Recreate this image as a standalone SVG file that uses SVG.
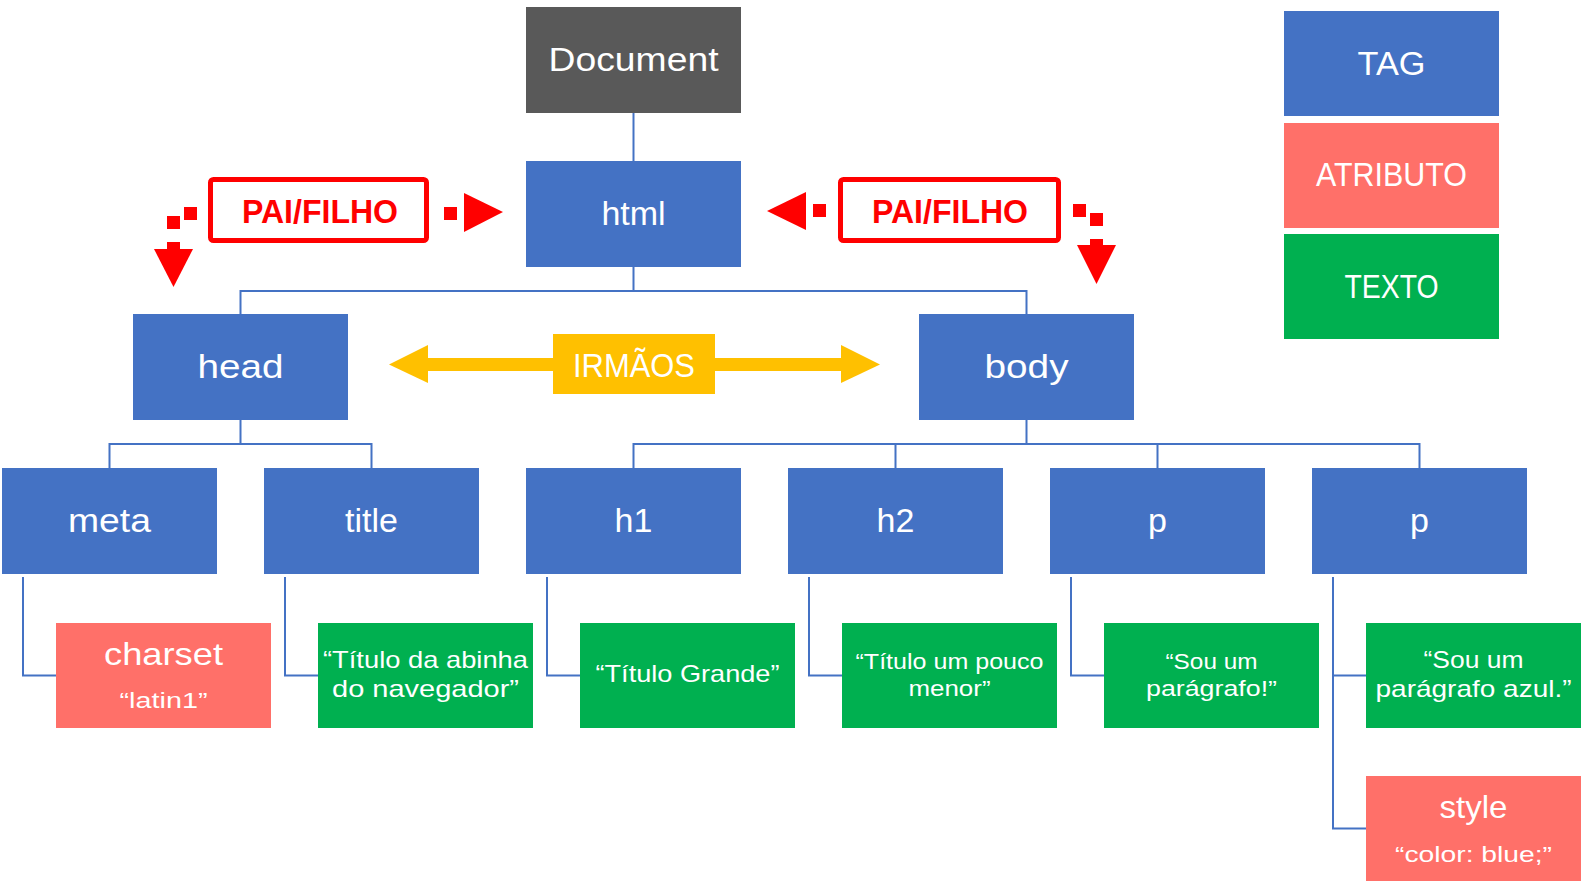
<svg xmlns="http://www.w3.org/2000/svg" width="1588" height="889" viewBox="0 0 1588 889">
<style>
.tag{fill:#4472C4}
.doc{fill:#595959}
.attr{fill:#FF7069}
.txt{fill:#00B050}
.t{font-family:"Liberation Sans","DejaVu Sans",sans-serif;fill:#fff;text-anchor:middle}
.big{font-size:34px}
.mid{font-size:24px}
.sm{font-size:22px}
.conn{fill:none;stroke:#4472C4;stroke-width:2}
.red{fill:#FF0000}
.redbox{fill:#fff;stroke:#FF0000;stroke-width:5}
.redt{font-family:"Liberation Sans","DejaVu Sans",sans-serif;font-weight:bold;font-size:34px;fill:#FF0000;text-anchor:middle}
.yel{fill:#FFC000}
</style>
<rect width="1588" height="889" fill="#fff"/>
<g id="connectors">
<path class="conn" d="M633.5 113V161"/>
<path class="conn" d="M633.5 267V291M240.5 314V291H1026.5V314"/>
<path class="conn" d="M240.5 420V444M109.5 468V444H371.5V468"/>
<path class="conn" d="M1026.5 420V444M633.5 468V444H1419.5V468M895.5 444V468M1157.5 444V468"/>
<path class="conn" d="M23 577V675.5H56"/>
<path class="conn" d="M285 577V675.5H318"/>
<path class="conn" d="M547 577V675.5H580"/>
<path class="conn" d="M809 577V675.5H842"/>
<path class="conn" d="M1071 577V675.5H1104"/>
<path class="conn" d="M1333 577V828.5H1366M1333 675.5H1366"/>
</g>
<g id="document"><rect class="doc" x="526" y="7" width="215" height="106"/><text class="t big" x="633.5" y="71" textLength="170" lengthAdjust="spacingAndGlyphs">Document</text></g>
<g id="html"><rect class="tag" x="526" y="161" width="215" height="106"/><text class="t big" x="633.5" y="225">html</text></g>
<g id="head"><rect class="tag" x="133" y="314" width="215" height="106"/><text class="t big" x="240.5" y="378" textLength="86" lengthAdjust="spacingAndGlyphs">head</text></g>
<g id="body"><rect class="tag" x="919" y="314" width="215" height="106"/><text class="t big" x="1026.5" y="378" textLength="84" lengthAdjust="spacingAndGlyphs">body</text></g>
<g id="meta"><rect class="tag" x="2" y="468" width="215" height="106"/><text class="t big" x="109.5" y="532" textLength="83" lengthAdjust="spacingAndGlyphs">meta</text></g>
<g id="title"><rect class="tag" x="264" y="468" width="215" height="106"/><text class="t big" x="371.5" y="532">title</text></g>
<g id="h1"><rect class="tag" x="526" y="468" width="215" height="106"/><text class="t big" x="633.5" y="532">h1</text></g>
<g id="h2"><rect class="tag" x="788" y="468" width="215" height="106"/><text class="t big" x="895.5" y="532">h2</text></g>
<g id="p1"><rect class="tag" x="1050" y="468" width="215" height="106"/><text class="t big" x="1157.5" y="532">p</text></g>
<g id="p2"><rect class="tag" x="1312" y="468" width="215" height="106"/><text class="t big" x="1419.5" y="532">p</text></g>
<g id="charset"><rect class="attr" x="56" y="623" width="215" height="105"/><text class="t" style="font-size:32px" x="163.5" y="665" textLength="119" lengthAdjust="spacingAndGlyphs">charset</text><text class="t sm" x="163.5" y="708" textLength="88" lengthAdjust="spacingAndGlyphs">“latin1”</text></g>
<g id="title-text"><rect class="txt" x="318" y="623" width="215" height="105"/><text class="t mid" x="425.5" y="668" textLength="205" lengthAdjust="spacingAndGlyphs">“Título da abinha</text><text class="t mid" x="425.5" y="697" textLength="187" lengthAdjust="spacingAndGlyphs">do navegador”</text></g>
<g id="h1-text"><rect class="txt" x="580" y="623" width="215" height="105"/><text class="t mid" x="687.5" y="682" textLength="184" lengthAdjust="spacingAndGlyphs">“Título Grande”</text></g>
<g id="h2-text"><rect class="txt" x="842" y="623" width="215" height="105"/><text class="t sm" x="949.5" y="669" textLength="188" lengthAdjust="spacingAndGlyphs">“Título um pouco</text><text class="t sm" x="949.5" y="696" textLength="82" lengthAdjust="spacingAndGlyphs">menor”</text></g>
<g id="p1-text"><rect class="txt" x="1104" y="623" width="215" height="105"/><text class="t sm" x="1211.5" y="669" textLength="92" lengthAdjust="spacingAndGlyphs">“Sou um</text><text class="t sm" x="1211.5" y="696" textLength="131" lengthAdjust="spacingAndGlyphs">parágrafo!”</text></g>
<g id="p2-text"><rect class="txt" x="1366" y="623" width="215" height="105"/><text class="t mid" x="1473.5" y="668" textLength="100" lengthAdjust="spacingAndGlyphs">“Sou um</text><text class="t mid" x="1473.5" y="697" textLength="196" lengthAdjust="spacingAndGlyphs">parágrafo azul.”</text></g>
<g id="style-attr"><rect class="attr" x="1366" y="776" width="215" height="105"/><text class="t" style="font-size:32px" x="1473.5" y="818" textLength="68" lengthAdjust="spacingAndGlyphs">style</text><text class="t sm" x="1473.5" y="862" textLength="157" lengthAdjust="spacingAndGlyphs">“color: blue;”</text></g>
<g id="legend-tag"><rect class="tag" x="1284" y="11" width="215" height="105"/><text class="t big" x="1391.5" y="75" textLength="68" lengthAdjust="spacingAndGlyphs">TAG</text></g>
<g id="legend-atributo"><rect class="attr" x="1284" y="123" width="215" height="105"/><text class="t big" x="1391.5" y="186" textLength="151" lengthAdjust="spacingAndGlyphs">ATRIBUTO</text></g>
<g id="legend-texto"><rect class="txt" x="1284" y="234" width="215" height="105"/><text class="t big" x="1391.5" y="298" textLength="94" lengthAdjust="spacingAndGlyphs">TEXTO</text></g>
<g id="pai-filho-left">
<rect class="redbox" x="210.5" y="179.5" width="216" height="61" rx="3"/>
<text class="redt" x="320" y="223" textLength="156" lengthAdjust="spacingAndGlyphs">PAI/FILHO</text>
<rect class="red" x="444" y="207" width="13" height="13"/>
<polygon class="red" points="464,193 464,232 503,212"/>
<rect class="red" x="184" y="207" width="13" height="13"/>
<rect class="red" x="167" y="216" width="13" height="13"/>
<rect class="red" x="167" y="242" width="13" height="8"/>
<polygon class="red" points="154,249 193,249 173.5,287"/>
</g>
<g id="pai-filho-right">
<rect class="redbox" x="840.5" y="179.5" width="218" height="61" rx="3"/>
<text class="redt" x="950" y="223" textLength="156" lengthAdjust="spacingAndGlyphs">PAI/FILHO</text>
<rect class="red" x="813" y="204" width="13" height="13"/>
<polygon class="red" points="806,192 806,230 767,211"/>
<rect class="red" x="1073" y="204" width="13" height="13"/>
<rect class="red" x="1090" y="213" width="13" height="13"/>
<rect class="red" x="1090" y="239" width="13" height="7"/>
<polygon class="red" points="1077,245 1116,245 1096.5,284"/>
</g>
<g id="irmaos">
<rect class="yel" x="428" y="358" width="413" height="13"/>
<polygon class="yel" points="428,345 428,383 389,364.5"/>
<polygon class="yel" points="841,345 841,383 880,364.5"/>
<rect class="yel" x="553" y="334" width="162" height="60"/>
<text class="t" style="font-size:34px" x="634" y="377" textLength="122" lengthAdjust="spacingAndGlyphs">IRMÃOS</text>
</g>
</svg>
